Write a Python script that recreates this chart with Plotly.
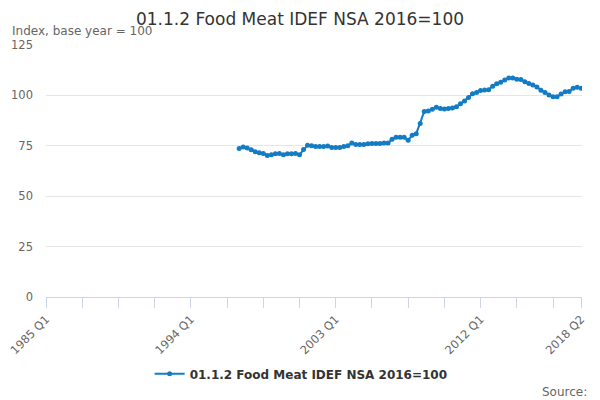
import plotly.graph_objects as go

# quarterly series, 1997 Q1 to 2018 Q2
start_year = 1997
values = [73.7, 74.4, 73.9, 73.0, 72.0, 71.5, 71.2, 70.2, 70.5, 71.0,
          71.2, 70.6, 71.1, 71.1, 71.2, 70.6, 73.2, 75.3, 75.0, 74.7,
          74.6, 74.6, 74.9, 74.2, 74.1, 74.2, 74.6, 75.0, 76.4, 75.7,
          75.7, 75.7, 76.0, 76.2, 76.2, 76.2, 76.4, 76.4, 78.2, 79.2,
          79.3, 79.2, 77.8, 80.2, 81.0, 86.0, 92.0, 92.2, 93.1, 94.1,
          93.5, 93.3, 93.5, 93.8, 94.4, 95.8, 97.2, 99.0, 100.8, 101.4,
          102.4, 102.7, 102.8, 104.6, 105.8, 106.5, 107.7, 108.6, 108.6, 108.0,
          107.9, 106.8, 105.9, 105.1, 104.2, 102.6, 101.5, 100.2, 99.3, 99.3,
          100.7, 101.8, 101.9, 103.6, 104.0, 103.5]

tick_labels = ['1985 Q1', '1994 Q1', '2003 Q1', '2012 Q1', '2018 Q2']
series_name = '01.1.2 Food Meat IDEF NSA 2016=100'


def q_index(label):
    y, q = label.split(' Q')
    return (int(y) - 1985) * 4 + int(q) - 1


quarters = [f'{start_year + i // 4} Q{i % 4 + 1}' for i in range(len(values))]
x = [q_index(q) for q in quarters]

fig = go.Figure()
fig.add_trace(go.Scatter(x=x, y=values, mode='lines+markers', name=series_name,
                         line=dict(color='#137cc4', width=2),
                         marker=dict(size=5, color='#137cc4'),
                         text=quarters, hovertemplate='%{text}: %{y}<extra></extra>'))

grey = '#666666'
fig.update_layout(
    width=600, height=400,
    margin=dict(l=46, r=18, t=45, b=103, autoexpand=False),
    paper_bgcolor='white', plot_bgcolor='white',
    font=dict(family='DejaVu Sans', color=grey, size=11),
    title=dict(text=series_name, x=0.5, xanchor='center', y=0.952, yanchor='middle',
               font=dict(size=17, color='#333333')),
    showlegend=True,
    legend=dict(orientation='h', x=0.476, xanchor='center', y=-0.305, yanchor='middle',
                itemwidth=30,
                font=dict(size=12, color='#333333', weight='bold')),
    annotations=[
        dict(text='Index, base year = 100', xref='paper', yref='paper',
             x=-0.067, y=1.056, xanchor='left', yanchor='middle', showarrow=False,
             font=dict(size=12, color=grey)),
        dict(text='Source:', xref='paper', yref='paper',
             x=1.013, y=-0.375, xanchor='right', yanchor='middle', showarrow=False,
             font=dict(size=12, color=grey)),
    ],
)

fig.update_xaxes(range=[0, 133.2], showgrid=False, zeroline=False, automargin=False,
                 showline=True, linecolor='#ccd6eb', linewidth=1,
                 tickmode='array', tickvals=[q_index(t) for t in tick_labels], ticktext=tick_labels,
                 ticks='outside', ticklen=10, tickcolor='#ccd6eb', tickangle=-45,
                 tickfont=dict(size=11.5, color=grey),
                 minor=dict(tickmode='array', tickvals=list(range(0, 133, 9)),
                            ticks='outside', ticklen=10, tickcolor='#ccd6eb', showgrid=False))
fig.update_yaxes(range=[0, 125], tickvals=[0, 25, 50, 75, 100, 125], automargin=False,
                 showgrid=True, gridcolor='#e6e6e6', zeroline=False, showline=False,
                 ticklabelstandoff=12, tickfont=dict(size=11.5, color=grey))

# drop the page's default body margin so the figure sits at the window corner
fig.write_html('out.html', config={'displayModeBar': False},
               post_script="document.body.style.margin='0';")
